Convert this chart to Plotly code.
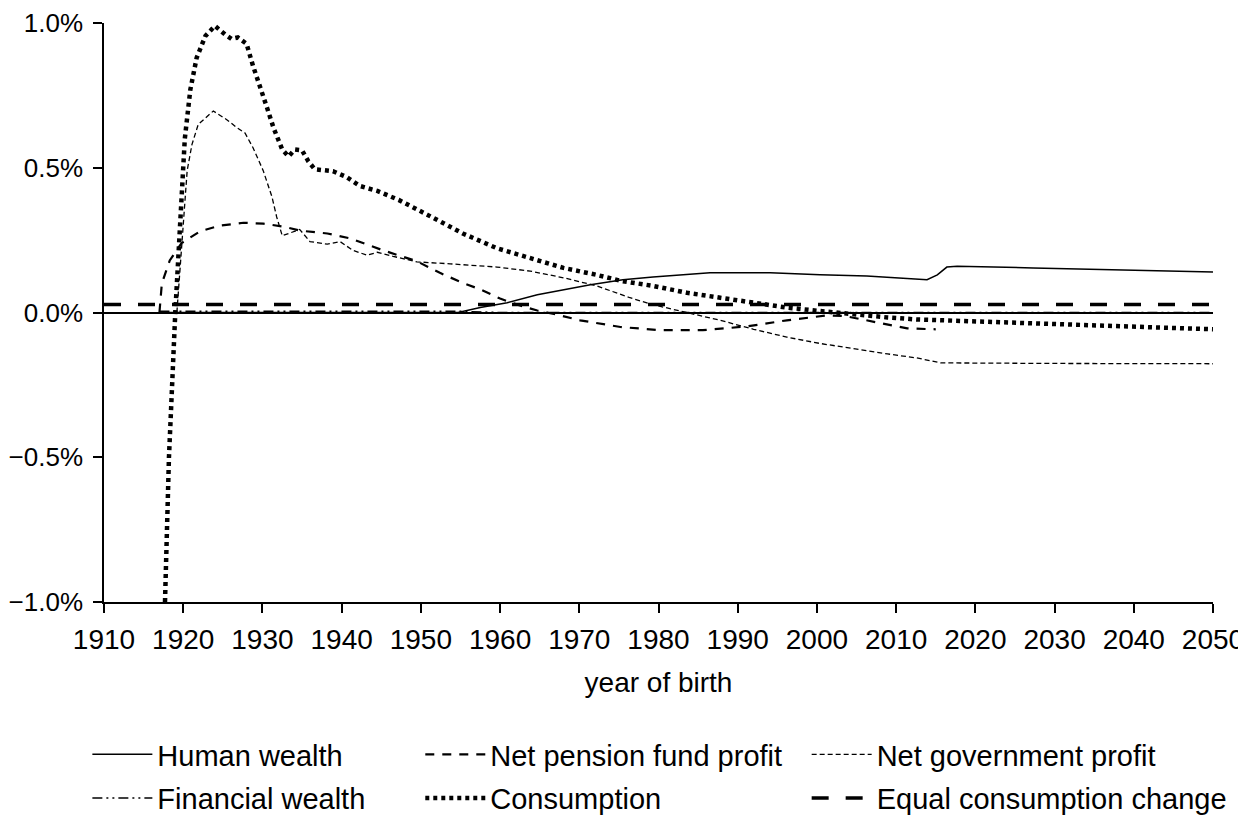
import plotly.graph_objects as go

# ---- data (percent) ----
hw_year = [1917, 1954.7, 1957.5, 1960.9, 1964.7, 1968, 1971.4, 1975.5, 1979.3, 1986.5, 1994.1, 2000.4,
           2006.3, 2013.9, 2015.2, 2016.4, 2017.7, 2027.3, 2039.9, 2050]
hw_val = [0.0, 0.0, 0.017, 0.034, 0.061, 0.078, 0.096, 0.113, 0.123, 0.137, 0.137, 0.13,
          0.126, 0.113, 0.13, 0.157, 0.16, 0.154, 0.147, 0.14]

fw_year = [1917, 1930, 1945, 1955, 1960, 1980, 2000, 2020, 2050]
fw_val = [0.004, 0.004, 0.004, 0.004, 0.0, 0.0, 0.0, 0.0, 0.0]

pf_year = [1917.0, 1917.3, 1918.3, 1919.8, 1922.1, 1924.6, 1927.6, 1930.1, 1932.6, 1934.7, 1938.2,
           1941.1, 1945.2, 1949.5, 1952.4, 1955.3, 1957.5, 1960, 1962.5, 1964.7, 1967.6, 1970.1,
           1975.2, 1980.2, 1985.6, 1991.2, 1996.2, 2001.3, 2003.5, 2006.3, 2008.9, 2011.4, 2015]
pf_val = [0.0, 0.10, 0.18, 0.24, 0.28, 0.30, 0.31, 0.307, 0.297, 0.283, 0.273,
          0.256, 0.215, 0.177, 0.137, 0.102, 0.08, 0.048, 0.024, 0.007, -0.01, -0.027,
          -0.05, -0.061, -0.061, -0.048, -0.027, -0.01, -0.012, -0.027, -0.04, -0.055, -0.058]

ng_year = [1919.2, 1919.6, 1920.0, 1920.2, 1920.5, 1921.1, 1921.9, 1923.8, 1925.5, 1926.8, 1927.8,
           1928.8, 1930.1, 1931.2, 1931.8, 1932.5, 1933.5, 1934.7, 1936, 1938.2, 1939.8, 1941.4,
           1943.2, 1944.5, 1946.5, 1949.5, 1953.7, 1959.6, 1963.8, 1968, 1972.2, 1976.4,
           1979.3, 1983.6, 1987.8, 1992, 1996.2, 2000.4, 2004.6, 2008.9, 2012.6, 2015.6, 2030, 2050]
ng_val = [0.0, 0.15, 0.30, 0.375, 0.49, 0.58, 0.65, 0.696, 0.666, 0.638, 0.62,
          0.57, 0.49, 0.40, 0.33, 0.265, 0.275, 0.287, 0.245, 0.236, 0.245, 0.215,
          0.198, 0.208, 0.194, 0.175, 0.168, 0.157, 0.143, 0.12, 0.092, 0.051,
          0.027, 0.0, -0.027, -0.058, -0.085, -0.107, -0.126, -0.143, -0.157, -0.174, -0.176, -0.177]

co_year = [1917.7, 1918.2, 1919.0, 1919.8, 1920.2, 1920.9, 1921.7, 1922.8, 1924.0, 1925.3, 1926.1,
           1926.9, 1928.0, 1928.8, 1929.7, 1930.6, 1931.4, 1932.5, 1933.3, 1934.1, 1935.0, 1935.8,
           1936.6, 1938.9, 1940.6, 1942.3, 1944.5, 1947.2, 1950.8, 1955.3, 1959.6, 1963.8, 1968,
           1972.2, 1975.3, 1979.3, 1983.6, 1987.8, 1992, 1996.2, 2000.4, 2004.6, 2008.9, 2012.6,
           2023.1, 2040, 2050]
co_val = [-1.0, -0.5, 0.0, 0.375, 0.60, 0.77, 0.88, 0.955, 0.99, 0.96, 0.945,
          0.95, 0.928, 0.853, 0.785, 0.706, 0.638, 0.563, 0.539, 0.563, 0.56, 0.522,
          0.495, 0.488, 0.468, 0.437, 0.42, 0.389, 0.338, 0.273, 0.222, 0.188, 0.154,
          0.13, 0.109, 0.092, 0.068, 0.051, 0.034, 0.017, 0.005, -0.007, -0.017, -0.024,
          -0.034, -0.051, -0.058]

eq_year = [1910, 2050]
eq_val = [0.028, 0.028]

x_ticks = list(range(1910, 2051, 10))
y_ticks = [-1.0, -0.5, 0.0, 0.5, 1.0]
y_tick_text = ["\u22121.0%", "\u22120.5%", "0.0%", "0.5%", "1.0%"]

FONT = "Liberation Sans, Arial, Helvetica, sans-serif"
FS = 28
YFS = 26
LFS = 29

fig = go.Figure()

def add(x, y, name, dash, width, legend):
    fig.add_trace(go.Scatter(x=x, y=y, mode="lines", name=name, legend=legend, legendgroup=name,
                             line=dict(color="black", width=width, dash=dash)))

add(hw_year, hw_val, "Human wealth", "solid", 1.5, "legend")
add(fw_year, fw_val, "Financial wealth", "10px,4px,2px,4px,2px,4px", 1.5, "legend")
add(pf_year, pf_val, "Net pension fund profit", "9px,8px", 2.2, "legend2")
add(co_year, co_val, "Consumption", "4px,4px", 4.5, "legend2")
add(ng_year, ng_val, "Net government profit", "5px,3px", 1.3, "legend3")
add(eq_year, eq_val, "Equal consumption change", "17px,17px", 3.5, "legend3")

leg_common = dict(font=dict(family=FONT, size=LFS, color="black"), bgcolor="rgba(0,0,0,0)",
                  orientation="v", yanchor="top", xanchor="left", y=-0.2193,
                  itemwidth=60, traceorder="grouped", tracegroupgap=3, itemclick=False)

fig.update_layout(
    width=1238, height=840,
    margin=dict(l=96, r=33, t=15, b=246),
    paper_bgcolor="white", plot_bgcolor="white",
    font=dict(family=FONT, size=FS, color="black"),
    showlegend=True,
    legend=dict(x=-0.015, **leg_common),
    legend2=dict(x=0.2852, **leg_common),
    legend3=dict(x=0.6336, **leg_common),
    xaxis=dict(range=[1910, 2050], tickvals=x_ticks, ticks="outside", ticklen=9, tickwidth=1.5,
               tickcolor="black", showline=True, linecolor="black", linewidth=1.5,
               showgrid=False, zeroline=False, tickfont=dict(size=FS), automargin=False,
               ticklabelstandoff=3, ticklabeloverflow="allow",
               title=dict(text="year of birth", font=dict(size=FS), standoff=18)),
    yaxis=dict(range=[-1.0, 1.0], tickvals=y_ticks, ticktext=y_tick_text, ticks="outside",
               ticklen=9, tickwidth=1.5, tickcolor="black", showline=True, linecolor="black",
               linewidth=1.5, showgrid=False, zeroline=True, zerolinecolor="black",
               zerolinewidth=1.5, tickfont=dict(size=YFS), automargin=False,
               ticklabelstandoff=5, ticklabeloverflow="allow"),
)

fig.write_html("out.html")
